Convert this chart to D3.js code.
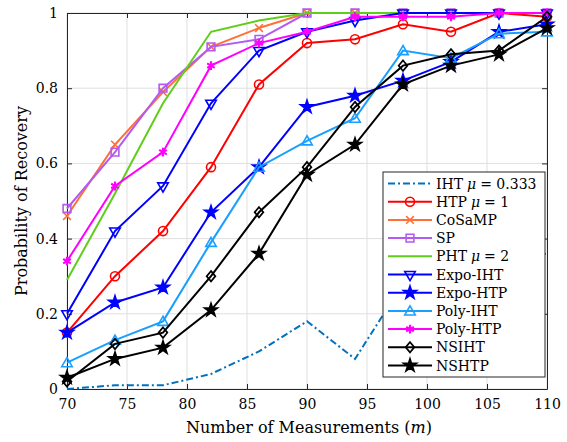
<!DOCTYPE html>
<html>
<head>
<meta charset="utf-8">
<script src="https://cdn.jsdelivr.net/npm/d3@7"></script>
<style>
  body { margin: 0; background: #fff; }
  text { font-family: "DejaVu Serif", serif; fill: #000; }
</style>
</head>
<body>
<div id="chart"></div>
<script>
// data
var measurements = [70, 74, 78, 82, 86, 90, 94, 98, 102, 106, 110];
var iht     = [0.00, 0.01, 0.01, 0.04, 0.10, 0.18, 0.08, 0.28, 0.31, 0.35, 0.36];
var htp     = [0.15, 0.30, 0.42, 0.59, 0.81, 0.92, 0.93, 0.97, 0.95, 1.00, 0.99];
var cosamp  = [0.46, 0.65, 0.79, 0.91, 0.96, 1.00, 1.00, 1.00, 1.00, 1.00, 1.00];
var sp      = [0.48, 0.63, 0.80, 0.91, 0.93, 1.00, 1.00, 1.00, 1.00, 1.00, 1.00];
var pht     = [0.29, 0.52, 0.76, 0.95, 0.98, 1.00, 1.00, 1.00, 1.00, 1.00, 1.00];
var expoIht = [0.20, 0.42, 0.54, 0.76, 0.90, 0.95, 0.98, 1.00, 1.00, 1.00, 1.00];
var expoHtp = [0.15, 0.23, 0.27, 0.47, 0.59, 0.75, 0.78, 0.82, 0.87, 0.95, 0.97];
var polyIht = [0.07, 0.13, 0.18, 0.39, 0.59, 0.66, 0.72, 0.90, 0.88, 0.945, 0.95];
var polyHtp = [0.34, 0.54, 0.63, 0.86, 0.92, 0.95, 0.99, 0.99, 0.99, 1.00, 1.00];
var nsiht   = [0.02, 0.12, 0.15, 0.30, 0.47, 0.59, 0.75, 0.86, 0.89, 0.90, 0.99];
var nshtp   = [0.03, 0.08, 0.11, 0.21, 0.36, 0.57, 0.65, 0.81, 0.86, 0.89, 0.96];

var xTicks = [70, 75, 80, 85, 90, 95, 100, 105, 110];
var yTicks = [0, 0.2, 0.4, 0.6, 0.8, 1];

var series = [
  {name: "IHT", mu: "0.333", values: iht,     color: "#0072bd", marker: null,       dash: "7,3,2,3"},
  {name: "HTP", mu: "1",     values: htp,     color: "#ff0000", marker: "circle"},
  {name: "CoSaMP",           values: cosamp,  color: "#ff7039", marker: "x"},
  {name: "SP",               values: sp,      color: "#b35af2", marker: "square"},
  {name: "PHT", mu: "2",     values: pht,     color: "#5fce1a", marker: null},
  {name: "Expo-IHT",         values: expoIht, color: "#0000ff", marker: "tridown"},
  {name: "Expo-HTP",         values: expoHtp, color: "#0000ff", marker: "star"},
  {name: "Poly-IHT",         values: polyIht, color: "#1a9fff", marker: "triup"},
  {name: "Poly-HTP",         values: polyHtp, color: "#ff00ff", marker: "asterisk"},
  {name: "NSIHT",            values: nsiht,   color: "#000000", marker: "diamond"},
  {name: "NSHTP",            values: nshtp,   color: "#000000", marker: "star"}
];

var svgWidth = 567, svgHeight = 442;
var margin = {top: 13, right: 20, bottom: 53, left: 67};
var width = svgWidth - margin.left - margin.right;
var height = svgHeight - margin.top - margin.bottom;

var x = d3.scaleLinear().domain([70, 110]).range([0, width]),
    y = d3.scaleLinear().domain([0, 1]).range([height, 0]);

var svg = d3.select("#chart").append("svg")
    .attr("width", svgWidth)
    .attr("height", svgHeight);

var g = svg.append("g")
    .attr("transform", "translate(" + margin.left + "," + margin.top + ")");

// grid
g.append("g").selectAll("line").data(xTicks).enter().append("line")
    .attr("x1", d => x(d)).attr("x2", d => x(d))
    .attr("y1", 0).attr("y2", height)
    .attr("stroke", "#dfdfdf").attr("stroke-width", 1);
g.append("g").selectAll("line").data(yTicks).enter().append("line")
    .attr("y1", d => y(d)).attr("y2", d => y(d))
    .attr("x1", 0).attr("x2", width)
    .attr("stroke", "#dfdfdf").attr("stroke-width", 1);

// axes (ticks point inward like matlab)
var fmt = d => String(+d.toFixed(1));
var xAxis = d3.axisBottom(x).tickValues(xTicks).tickSizeInner(-5).tickSizeOuter(0).tickPadding(10);
var yAxis = d3.axisLeft(y).tickValues(yTicks).tickSizeInner(-5).tickSizeOuter(0).tickPadding(9).tickFormat(fmt);

g.append("g").attr("transform", "translate(0," + height + ")").call(xAxis);
g.append("g").call(yAxis);
g.append("g").call(d3.axisTop(x).tickValues(xTicks).tickSizeInner(-5).tickSizeOuter(0).tickFormat(""));
g.append("g").attr("transform", "translate(" + width + ",0)")
    .call(d3.axisRight(y).tickValues(yTicks).tickSizeInner(-5).tickSizeOuter(0).tickFormat(""));

g.selectAll(".domain").attr("stroke", "#262626").attr("stroke-width", 1);
g.selectAll(".tick line").attr("stroke", "#262626");
g.selectAll(".tick text").style("font-size", "14px").attr("fill", "#000")
    .style("font-family", "'DejaVu Serif', serif");

// axis titles
g.append("text")
    .attr("x", width / 2 + 2).attr("y", height + 44)
    .attr("text-anchor", "middle")
    .style("font-size", "16px")
    .html("Number of Measurements (<tspan font-style='italic'>m</tspan>)");

g.append("text")
    .attr("transform", "translate(" + (-40) + "," + (height / 2) + ") rotate(-90)")
    .attr("text-anchor", "middle")
    .style("font-size", "16px")
    .text("Probability of Recovery");

// markers
function symbolPath(type) {
  switch (type) {
    case "circle":   return d3.symbol(d3.symbolCircle, 64)();
    case "x":        return d3.symbol(d3.symbolX, 40)();
    case "square":   return d3.symbol(d3.symbolSquare, 60)();
    case "tridown":  return d3.symbol(d3.symbolTriangle, 48)();
    case "triup":    return d3.symbol(d3.symbolTriangle, 48)();
    case "star":     return d3.symbol(d3.symbolStar, 52)();
    case "asterisk": return d3.symbol(d3.symbolAsterisk, 55)();
    case "diamond":  return d3.symbol(d3.symbolDiamond2, 48)();
  }
}
function markerTransform(type, px, py) {
  var t = "translate(" + px + "," + py + ")";
  if (type === "tridown") t += " rotate(180)";
  if (type === "triup") t += " translate(0,1)";
  if (type === "diamond") t += " scale(1,1.2)";
  return t;
}
function filled(type) { return type === "star" || type === "asterisk"; }

var line = d3.line()
    .x((d, i) => x(measurements[i]))
    .y(d => y(d));

series.forEach(function(s) {
  var sg = g.append("g");
  sg.append("path")
      .datum(s.values)
      .attr("fill", "none")
      .attr("stroke", s.color)
      .attr("stroke-width", 2)
      .attr("stroke-dasharray", s.dash || null)
      .attr("d", line);
  if (s.marker) {
    sg.selectAll("path.m").data(s.values).enter().append("path")
        .attr("class", "m")
        .attr("d", symbolPath(s.marker))
        .attr("transform", (d, i) => markerTransform(s.marker, x(measurements[i]), y(d)))
        .attr("fill", filled(s.marker) ? s.color : "none")
        .attr("stroke", s.color)
        .attr("stroke-width", s.marker === "asterisk" ? 2.2 : 1.6);
  }
});

// legend
var lx = 383 - margin.left, ly = 172 - margin.top, lw = 162, lh = 205, rowH = 18.2;
var leg = g.append("g").attr("transform", "translate(" + lx + "," + ly + ")");
leg.append("rect").attr("width", lw).attr("height", lh)
    .attr("fill", "#fff").attr("stroke", "#262626").attr("stroke-width", 1);

series.forEach(function(s, i) {
  var ry = 11.5 + i * rowH;
  leg.append("line")
      .attr("x1", 5).attr("x2", 49).attr("y1", ry).attr("y2", ry)
      .attr("stroke", s.color).attr("stroke-width", 2)
      .attr("stroke-dasharray", s.dash || null);
  if (s.marker) {
    leg.append("path")
        .attr("d", symbolPath(s.marker))
        .attr("transform", markerTransform(s.marker, 27, ry))
        .attr("fill", filled(s.marker) ? s.color : "none")
        .attr("stroke", s.color)
        .attr("stroke-width", s.marker === "asterisk" ? 2.2 : 1.6);
  }
  var t = leg.append("text").attr("x", 53).attr("y", ry + 5).style("font-size", "14px");
  t.append("tspan").text(s.name);
  if (s.mu) {
    t.append("tspan").attr("dx", 4).attr("font-style", "italic").text("μ");
    t.append("tspan").attr("dx", 4).text("= " + s.mu);
  }
});
</script>
</body>
</html>
